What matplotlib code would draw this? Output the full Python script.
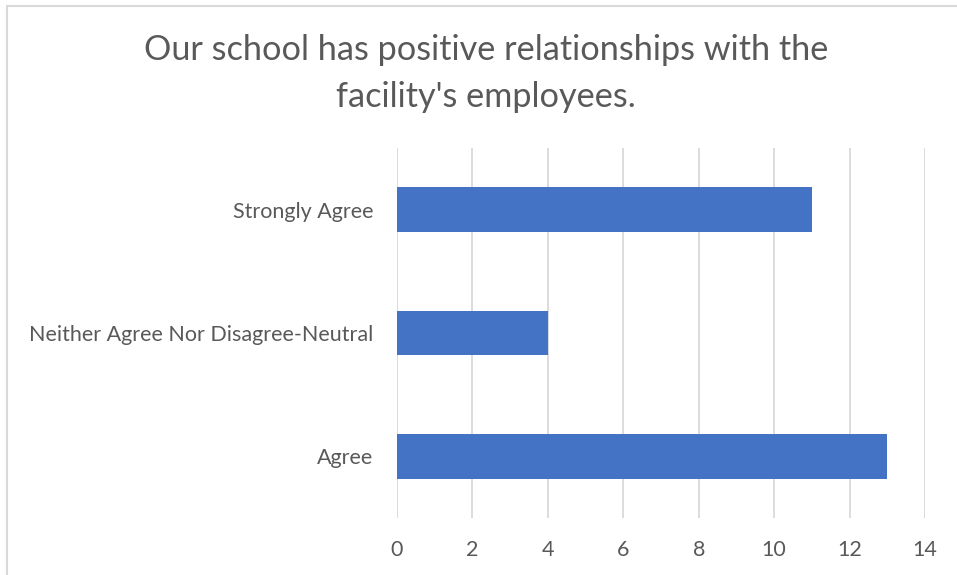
import matplotlib
matplotlib.use("Agg")
import matplotlib.pyplot as plt
from matplotlib.patches import Rectangle

categories = ["Agree", "Neither Agree Nor Disagree-Neutral", "Strongly Agree"]
values = [13, 4, 11]
xticks = [0, 2, 4, 6, 8, 10, 12, 14]
title = "Our school has positive relationships with the\nfacility's employees."

plt.rcParams['font.family'] = ['Lato', 'DejaVu Sans']
txt = '#595959'
grid = '#D9D9D9'

fig = plt.figure(figsize=(9.57, 5.75), dpi=100)
ax = fig.add_axes([397/957, 1-518/575, (925-397)/957, (518-148)/575])

y = list(range(len(categories)))
ax.barh(y, values, height=0.36, color='#4472C4', zorder=3)
ax.set_yticks(y)
ax.set_yticklabels(categories, color=txt, fontsize=15.5)
ax.set_ylim(-0.5, 2.5)
ax.set_xlim(0, 14)
ax.set_xticks(xticks)
ax.set_xticklabels([str(v) for v in xticks], color=txt, fontsize=15.5)
ax.tick_params(axis='both', length=0)
ax.tick_params(axis='x', pad=16)
ax.tick_params(axis='y', pad=17)
ax.xaxis.grid(True, color=grid, linewidth=1.3, zorder=0)
for s in ax.spines.values():
    s.set_visible(False)

lines = title.split("\n")
fig.text(486/957, 1-50/575, lines[0], ha='center', va='center', fontsize=24.7, color=txt)
fig.text(486/957, 1-97/575, lines[1], ha='center', va='center', fontsize=24.7, color=txt)

# outer chart border (partially visible)
fig.add_artist(Rectangle((6.5/957, -0.05), 1.2, 1-5.5/575+0.05, transform=fig.transFigure,
                         fill=False, edgecolor=grid, linewidth=1.5))

fig.savefig("out.png", dpi=100)
